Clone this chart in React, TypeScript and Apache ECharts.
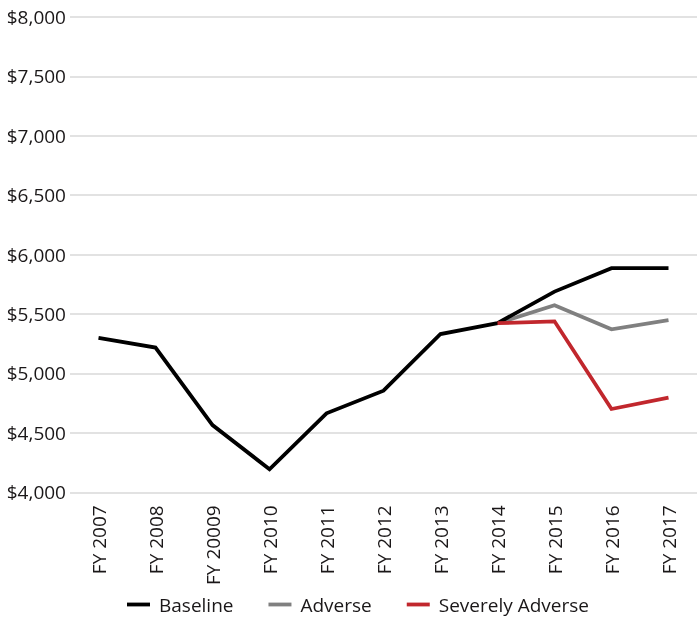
import React, { useEffect, useRef } from "react";
import * as echarts from "echarts";

const categories = ["FY 2007", "FY 2008", "FY 20009", "FY 2010", "FY 2011", "FY 2012", "FY 2013", "FY 2014", "FY 2015", "FY 2016", "FY 2017"];
const baseline = [5300, 5218, 4566, 4194, 4665, 4855, 5332, 5423, 5689, 5886, 5886];
const adverse = [null, null, null, null, null, null, null, 5423, 5574, 5372, 5448];
const severelyAdverse = [null, null, null, null, null, null, null, 5423, 5439, 4701, 4796];
const seriesNames = ["Baseline", "Adverse", "Severely Adverse"];
const yTicks = { min: 4000, max: 8000, interval: 500 };

const FONT = "'Open Sans', 'Noto Sans', sans-serif";
const TEXT = "#1a1718";

export default function App() {
  const ref = useRef<HTMLDivElement>(null);
  useEffect(() => {
    if (!ref.current) return;
    const chart = echarts.init(ref.current, null, { renderer: "svg" });
    const mk = (name: string, data: (number | null)[], color: string, z: number) => ({
      name,
      type: "line",
      data,
      symbol: "none",
      z,
      connectNulls: false,
      lineStyle: { color, width: 3.8, join: "miter" },
      itemStyle: { color },
    });
    chart.setOption({
      animation: false,
      textStyle: { fontFamily: FONT },
      grid: { left: 70, right: -6.5, top: 17, bottom: 124.7, containLabel: false },
      legend: {
        data: seriesNames,
        left: 127,
        top: 595,
        padding: 0,
        icon: "rect",
        itemWidth: 23,
        itemHeight: 3.8,
        itemGap: 35,
        textStyle: { fontFamily: FONT, fontSize: 19, color: TEXT, lineHeight: 19, padding: [0, 0, 0, 4] },
      },
      xAxis: {
        type: "category",
        data: categories,
        boundaryGap: true,
        axisLine: { show: false },
        axisTick: { show: false },
        axisLabel: { rotate: 90, margin: 13, fontFamily: FONT, fontSize: 19, color: TEXT, interval: 0 },
      },
      yAxis: {
        type: "value",
        min: yTicks.min,
        max: yTicks.max,
        interval: yTicks.interval,
        axisLine: { show: false },
        axisTick: { show: false },
        splitLine: { lineStyle: { color: "#d9d9d9", width: 1.5 } },
        axisLabel: {
          margin: 4,
          fontFamily: FONT,
          fontSize: 19,
          color: TEXT,
          formatter: (v: number) => "$" + v.toLocaleString("en-US"),
        },
      },
      series: [
        mk(seriesNames[0], baseline, "#000000", 3),
        mk(seriesNames[1], adverse, "#808080", 2),
        mk(seriesNames[2], severelyAdverse, "#c1272d", 4),
      ],
    });
    return () => chart.dispose();
  }, []);
  return <div ref={ref} style={{ position: "fixed", left: 0, top: 0, width: 697, height: 617 }} />;
}
